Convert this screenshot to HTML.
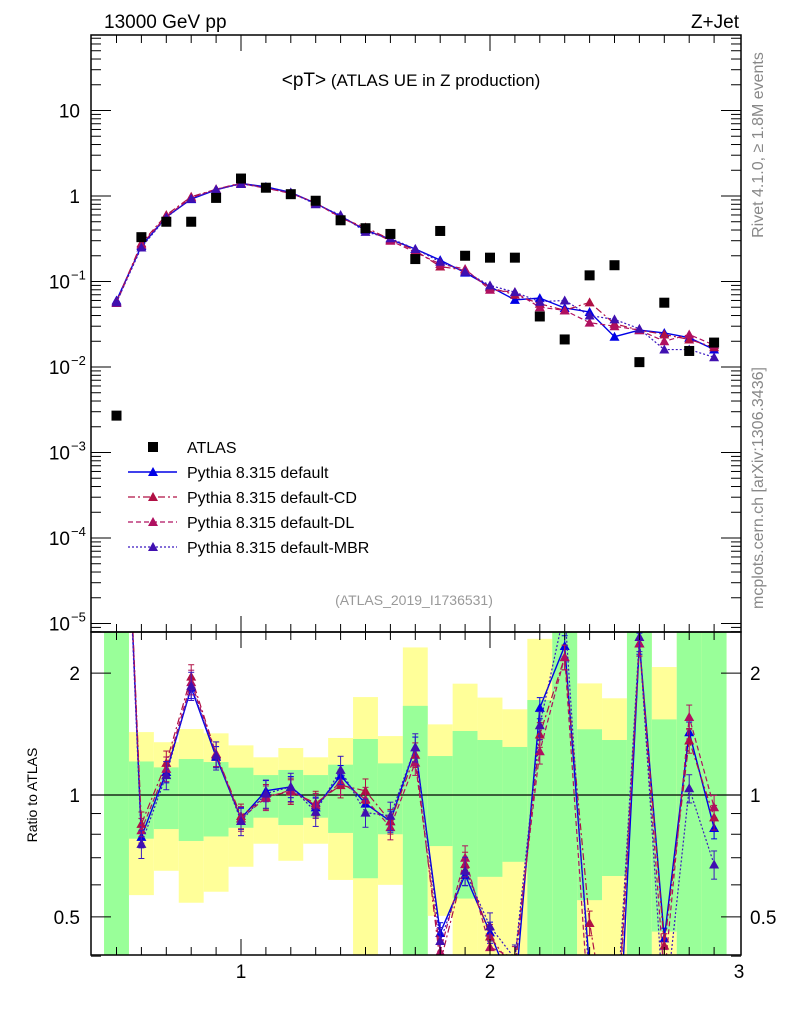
<!DOCTYPE html>
<html><head><meta charset="utf-8">
<style>
html,body{margin:0;padding:0;background:#fff;width:786px;height:1024px;overflow:hidden;}
svg{display:block;font-family:"Liberation Sans",sans-serif;}
</style></head>
<body>
<svg id="chart" width="786" height="1024" viewBox="0 0 786 1024" xmlns="http://www.w3.org/2000/svg" overflow="hidden">
<defs>
<clipPath id="clipMain"><rect x="91" y="35" width="650" height="597"/></clipPath>
<clipPath id="clipRatio"><rect x="91" y="632" width="650" height="323"/></clipPath>
</defs>
<g id="ratioBands" clip-path="url(#clipRatio)"></g>
<g id="mainMarks" clip-path="url(#clipMain)"></g>
<g id="ratioMarks" clip-path="url(#clipRatio)"></g>
<g id="axes"></g>
<text x="104" y="28" font-size="19">13000 GeV pp</text>
<text x="739" y="28" font-size="19" text-anchor="end">Z+Jet</text>
<text x="411" y="86" font-size="17" text-anchor="middle"><tspan font-size="19">&lt;pT&gt;</tspan> (ATLAS UE in Z production)</text>
<text x="414" y="605" font-size="14" fill="#999" text-anchor="middle">(ATLAS_2019_I1736531)</text>
<text transform="translate(763,145) rotate(-90)" font-size="16" fill="#888" text-anchor="middle">Rivet 4.1.0, ≥ 1.8M events</text>
<text transform="translate(763,488) rotate(-90)" font-size="16" fill="#888" text-anchor="middle">mcplots.cern.ch [arXiv:1306.3436]</text>
<text transform="translate(37,795) rotate(-90)" font-size="14" text-anchor="middle">Ratio to ATLAS</text>
<g id="legend"></g>
</svg>
<script>
const xCenters = [0.5,0.6,0.7,0.8,0.9,1.0,1.1,1.2,1.3,1.4,1.5,1.6,1.7,1.8,1.9,2.0,2.1,2.2,2.3,2.4,2.5,2.6,2.7,2.8,2.9];
const atlasValues = [0.0027,0.33,0.5,0.5,0.95,1.6,1.25,1.05,0.88,0.52,0.42,0.36,0.183,0.39,0.2,0.19,0.19,0.039,0.021,0.118,0.155,0.0114,0.0565,0.0154,0.0193];
const defaultValues = [0.06,0.26,0.57,0.92,1.18,1.4,1.28,1.1,0.82,0.58,0.4,0.31,0.24,0.178,0.127,0.087,0.061,0.064,0.049,0.044,0.0226,0.027,0.025,0.022,0.016];
const cdValues = [0.058,0.28,0.6,0.98,1.2,1.42,1.24,1.07,0.84,0.55,0.43,0.31,0.23,0.15,0.135,0.085,0.07,0.055,0.046,0.057,0.032,0.027,0.024,0.021,0.017];
const dlValues = [0.056,0.27,0.58,0.95,1.2,1.4,1.23,1.08,0.83,0.56,0.41,0.3,0.22,0.16,0.14,0.08,0.075,0.05,0.046,0.033,0.03,0.027,0.02,0.024,0.018];
const mbrValues = [0.057,0.25,0.56,0.93,1.19,1.38,1.26,1.1,0.8,0.6,0.38,0.32,0.24,0.17,0.13,0.09,0.075,0.058,0.06,0.04,0.036,0.028,0.016,0.016,0.013];
const greenUp = [9,1.21,1.17,1.227,1.206,1.168,1.12,1.153,1.12,1.188,1.375,1.197,1.66,1.248,1.439,1.367,1.314,1.716,9,1.453,1.367,9,1.537,9,9];
const greenDown = [0.1,0.78,0.824,0.77,0.79,0.83,0.879,0.843,0.879,0.806,0.623,0.8,0.1,0.748,0.555,0.628,0.684,0.1,0.1,0.55,0.631,0.1,0.46,0.1,0.1];
const yellowUp = [9,1.43,1.35,1.455,1.42,1.326,1.239,1.306,1.239,1.383,1.745,1.398,2.314,1.494,1.883,1.74,1.628,2.43,9,1.886,1.733,9,2.07,9,9];
const yellowDown = [0.1,0.566,0.65,0.542,0.577,0.665,0.758,0.688,0.758,0.617,0.1,0.6,0.1,0.503,0.1,0.1,0.1,0.1,0.1,0.1,0.1,0.1,0.1,0.1,0.1];
const mainYTicks = [1,0,-1,-2,-3,-4,-5];
const xTickLabels = [1,2,3];
const ratioTickLabels = [0.5,1,2];

const NS="http://www.w3.org/2000/svg";
const X0=91,X1=741;
function sx(v){return 241+(v-1)*249;}
function syMain(v){return 196-Math.log10(v)*85.5;}
function syRatio(r){return 795-Math.log10(r)*405;}
function mk(tag,attrs,parent){const e=document.createElementNS(NS,tag);for(const k in attrs)e.setAttribute(k,attrs[k]);parent.appendChild(e);return e;}

const bands=document.getElementById('ratioBands');
xCenters.forEach((c,i)=>{
  const x=sx(c-0.05),w=sx(c+0.05)-x;
  const y1=mk('rect',{x:x,y:syRatio(yellowUp[i]),width:w,height:syRatio(yellowDown[i])-syRatio(yellowUp[i]),fill:'#ffff99'},bands);
  
  
  const g1=mk('rect',{x:x,y:syRatio(greenUp[i]),width:w,height:syRatio(greenDown[i])-syRatio(greenUp[i]),fill:'#99ff99'},bands);
  
  
});

const series=[
 {name:'default',vals:defaultValues,color:'#0000e6',tri:'#0000e6',dash:'',w:1.4,err:0.06},
 {name:'default-cd',vals:cdValues,color:'#b01044',tri:'#b01044',dash:'7,3,2,3',w:1.2,err:0.07},
 {name:'default-dl',vals:dlValues,color:'#b01060',tri:'#b01060',dash:'5,3',w:1.2,err:0.07},
 {name:'default-mbr',vals:mbrValues,color:'#3a18c0',tri:'#4010b0',dash:'2,2',w:1.2,err:0.08}
];
function tri(parent,x,y,col){const p=mk('polygon',{points:`${x-5},${y+4} ${x+5},${y+4} ${x},${y-5}`,fill:col},parent);return p;}

const mainG=document.getElementById('mainMarks');
const ratioG=document.getElementById('ratioMarks');
mk('line',{x1:X0,x2:X1,y1:795,y2:795,stroke:'#000','stroke-width':1.2},ratioG);
series.forEach(s=>{
  const pts=xCenters.map((c,i)=>`${sx(c)},${syMain(s.vals[i])}`).join(' ');
  const l=mk('polyline',{points:pts,fill:'none',stroke:s.color,'stroke-width':s.w,'stroke-dasharray':s.dash},mainG);
  
  
  const rpts=xCenters.map((c,i)=>`${sx(c)},${syRatio(s.vals[i]/atlasValues[i])}`).join(' ');
  const rl=mk('polyline',{points:rpts,fill:'none',stroke:s.color,'stroke-width':s.w,'stroke-dasharray':s.dash},ratioG);
  
  
  xCenters.forEach((c,i)=>{
    const x=sx(c),v=s.vals[i];
    const ya=syMain(v*(1+s.err)),yb=syMain(v*(1-s.err));
    mk('line',{x1:x,x2:x,y1:ya,y2:yb,stroke:s.color,'stroke-width':1},mainG);
    const t=tri(mainG,x,syMain(v),s.tri);
    
    
    const r=v/atlasValues[i];
    mk('line',{x1:x,x2:x,y1:syRatio(r*(1+s.err)),y2:syRatio(r*(1-s.err)),stroke:s.color,'stroke-width':1},ratioG);
    mk('line',{x1:x-3,x2:x+3,y1:syRatio(r*(1+s.err)),y2:syRatio(r*(1+s.err)),stroke:s.color,'stroke-width':1},ratioG);
    mk('line',{x1:x-3,x2:x+3,y1:syRatio(r*(1-s.err)),y2:syRatio(r*(1-s.err)),stroke:s.color,'stroke-width':1},ratioG);
    const rt=tri(ratioG,x,syRatio(r),s.tri);
    
    
  });
});
xCenters.forEach((c,i)=>{
  const q=mk('rect',{x:sx(c)-5,y:syMain(atlasValues[i])-5,width:10,height:10,fill:'#000'},mainG);
  
  
});

const ax=document.getElementById('axes');
const fr1=mk('rect',{x:X0,y:35,width:X1-X0,height:597,fill:'none',stroke:'#000','stroke-width':1.5},ax);


const fr2=mk('rect',{x:X0,y:632,width:X1-X0,height:323,fill:'none',stroke:'#000','stroke-width':1.5},ax);


for(let k=5;k<=29;k++){
  const v=k/10,x=sx(v),major=(k%10===0);
  const len=major?16:8;
  [[35,1],[632,-1],[632,1],[955,-1]].forEach(([y,d])=>mk('line',{x1:x,x2:x,y1:y,y2:y+d*len,stroke:'#000','stroke-width':1},ax));
}
xTickLabels.forEach(v=>{
  const t=mk('text',{x:sx(v),y:978,'font-size':19,'text-anchor':'middle'},ax);
  t.textContent=v;
  
  
});
for(let e=-6;e<=1;e++){
  for(let m=1;m<=9;m++){
    const v=m*Math.pow(10,e),y=syMain(v);
    if(y<35||y>632)continue;
    const len=m===1?20:10;
    mk('line',{x1:X0,x2:X0+len,y1:y,y2:y,stroke:'#000','stroke-width':1},ax);
    mk('line',{x1:X1,x2:X1-len,y1:y,y2:y,stroke:'#000','stroke-width':1},ax);
  }
}
mainYTicks.forEach(e=>{
  const y=syMain(Math.pow(10,e));
  const t=mk('text',{x:e>=0?80:70,y:y+7,'font-size':19,'text-anchor':'end'},ax);
  
  
  if(e===1)t.textContent='10';else if(e===0)t.textContent='1';
  else{t.textContent='10';const s=mk('tspan',{x:71,dy:-9,'font-size':13,'text-anchor':'start'},ax);s.textContent='−'+(-e);t.appendChild(s);}
});
[0.4,0.5,0.6,0.7,0.8,0.9,1,2].forEach(r=>{
  const y=syRatio(r),len=(r===0.5||r===1||r===2)?20:10;
  mk('line',{x1:X0,x2:X0+len,y1:y,y2:y,stroke:'#000','stroke-width':1},ax);
  mk('line',{x1:X1,x2:X1-len,y1:y,y2:y,stroke:'#000','stroke-width':1},ax);
});
ratioTickLabels.forEach(r=>{
  const y=syRatio(r)+7;
  const t1=mk('text',{x:80,y:y,'font-size':19,'text-anchor':'end'},ax);t1.textContent=r;
  
  
  const t2=mk('text',{x:750,y:y,'font-size':19},ax);t2.textContent=r;
  
  
});
const lg=document.getElementById('legend');
const labels=['ATLAS','Pythia 8.315 default','Pythia 8.315 default-CD','Pythia 8.315 default-DL','Pythia 8.315 default-MBR'];
labels.forEach((lab,i)=>{
  const y=447+i*25;
  const g=mk('g',{},lg);
  
  
  if(i===0){mk('rect',{x:148,y:y-5,width:10,height:10,fill:'#000'},g);}
  else{const s=series[i-1];mk('line',{x1:128,x2:177,y1:y,y2:y,stroke:s.color,'stroke-width':s.w,'stroke-dasharray':s.dash},g);tri(g,153,y,s.tri);}
  const t=mk('text',{x:187,y:y+6,'font-size':16},g);t.textContent=lab;
});
</script>
</body></html>
